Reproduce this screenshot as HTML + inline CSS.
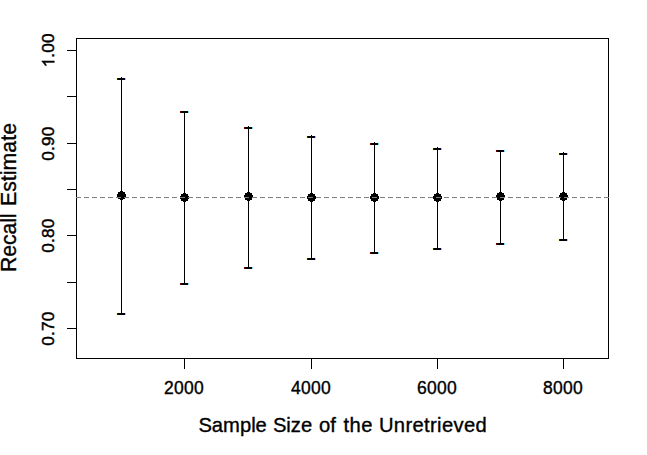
<!DOCTYPE html><html><head><meta charset="utf-8"><style>html,body{margin:0;padding:0;background:#fff}svg{display:block;position:absolute;left:0;top:0}text{font-family:"Liberation Sans",sans-serif;fill:#000}</style></head><body>
<svg width="647" height="455" viewBox="0 0 647 455">
<rect width="647" height="455" fill="#fff"/>
<g fill="#000" shape-rendering="crispEdges">
<rect x="76" y="38" width="533" height="1"/><rect x="76" y="358" width="533" height="1"/><rect x="76" y="38" width="1" height="321"/><rect x="608" y="38" width="1" height="321"/>
<rect x="67" y="50" width="10" height="1"/>
<rect x="67" y="96" width="10" height="1"/>
<rect x="67" y="143" width="10" height="1"/>
<rect x="67" y="189" width="10" height="1"/>
<rect x="67" y="235" width="10" height="1"/>
<rect x="67" y="282" width="10" height="1"/>
<rect x="67" y="328" width="10" height="1"/>
<rect x="184" y="358" width="1" height="11"/>
<rect x="311" y="358" width="1" height="11"/>
<rect x="437" y="358" width="1" height="11"/>
<rect x="563" y="358" width="1" height="11"/>
<rect x="121" y="77" width="1" height="238"/>
<rect x="118" y="78" width="6" height="2"/>
<rect x="116" y="78" width="1" height="2" fill="#ffffc0"/>
<rect x="117" y="78" width="1" height="2" fill="#700000"/>
<rect x="124" y="78" width="1" height="2" fill="#000030"/>
<rect x="125" y="78" width="1" height="2" fill="#80d4ff"/>
<rect x="118" y="313" width="6" height="2"/>
<rect x="116" y="313" width="1" height="2" fill="#ffffc0"/>
<rect x="117" y="313" width="1" height="2" fill="#700000"/>
<rect x="124" y="313" width="1" height="2" fill="#000030"/>
<rect x="125" y="313" width="1" height="2" fill="#80d4ff"/>
<rect x="184" y="111" width="1" height="174"/>
<rect x="181" y="111" width="6" height="2"/>
<rect x="179" y="111" width="1" height="2" fill="#ffffc0"/>
<rect x="180" y="111" width="1" height="2" fill="#700000"/>
<rect x="187" y="111" width="1" height="2" fill="#000030"/>
<rect x="188" y="111" width="1" height="2" fill="#80d4ff"/>
<rect x="181" y="283" width="6" height="2"/>
<rect x="179" y="283" width="1" height="2" fill="#ffffc0"/>
<rect x="180" y="283" width="1" height="2" fill="#700000"/>
<rect x="187" y="283" width="1" height="2" fill="#000030"/>
<rect x="188" y="283" width="1" height="2" fill="#80d4ff"/>
<rect x="248" y="126" width="1" height="143"/>
<rect x="245" y="127" width="6" height="2"/>
<rect x="243" y="127" width="1" height="2" fill="#ffffc0"/>
<rect x="244" y="127" width="1" height="2" fill="#700000"/>
<rect x="251" y="127" width="1" height="2" fill="#000030"/>
<rect x="252" y="127" width="1" height="2" fill="#80d4ff"/>
<rect x="245" y="267" width="6" height="2"/>
<rect x="243" y="267" width="1" height="2" fill="#ffffc0"/>
<rect x="244" y="267" width="1" height="2" fill="#700000"/>
<rect x="251" y="267" width="1" height="2" fill="#000030"/>
<rect x="252" y="267" width="1" height="2" fill="#80d4ff"/>
<rect x="311" y="135" width="1" height="125"/>
<rect x="308" y="136" width="6" height="2"/>
<rect x="306" y="136" width="1" height="2" fill="#ffffc0"/>
<rect x="307" y="136" width="1" height="2" fill="#700000"/>
<rect x="314" y="136" width="1" height="2" fill="#000030"/>
<rect x="315" y="136" width="1" height="2" fill="#80d4ff"/>
<rect x="308" y="258" width="6" height="2"/>
<rect x="306" y="258" width="1" height="2" fill="#ffffc0"/>
<rect x="307" y="258" width="1" height="2" fill="#700000"/>
<rect x="314" y="258" width="1" height="2" fill="#000030"/>
<rect x="315" y="258" width="1" height="2" fill="#80d4ff"/>
<rect x="374" y="142" width="1" height="112"/>
<rect x="371" y="143" width="6" height="2"/>
<rect x="369" y="143" width="1" height="2" fill="#ffffc0"/>
<rect x="370" y="143" width="1" height="2" fill="#700000"/>
<rect x="377" y="143" width="1" height="2" fill="#000030"/>
<rect x="378" y="143" width="1" height="2" fill="#80d4ff"/>
<rect x="371" y="252" width="6" height="2"/>
<rect x="369" y="252" width="1" height="2" fill="#ffffc0"/>
<rect x="370" y="252" width="1" height="2" fill="#700000"/>
<rect x="377" y="252" width="1" height="2" fill="#000030"/>
<rect x="378" y="252" width="1" height="2" fill="#80d4ff"/>
<rect x="437" y="147" width="1" height="103"/>
<rect x="434" y="148" width="6" height="2"/>
<rect x="432" y="148" width="1" height="2" fill="#ffffc0"/>
<rect x="433" y="148" width="1" height="2" fill="#700000"/>
<rect x="440" y="148" width="1" height="2" fill="#000030"/>
<rect x="441" y="148" width="1" height="2" fill="#80d4ff"/>
<rect x="434" y="248" width="6" height="2"/>
<rect x="432" y="248" width="1" height="2" fill="#ffffc0"/>
<rect x="433" y="248" width="1" height="2" fill="#700000"/>
<rect x="440" y="248" width="1" height="2" fill="#000030"/>
<rect x="441" y="248" width="1" height="2" fill="#80d4ff"/>
<rect x="500" y="150" width="1" height="95"/>
<rect x="497" y="150" width="6" height="2"/>
<rect x="495" y="150" width="1" height="2" fill="#ffffc0"/>
<rect x="496" y="150" width="1" height="2" fill="#700000"/>
<rect x="503" y="150" width="1" height="2" fill="#000030"/>
<rect x="504" y="150" width="1" height="2" fill="#80d4ff"/>
<rect x="497" y="243" width="6" height="2"/>
<rect x="495" y="243" width="1" height="2" fill="#ffffc0"/>
<rect x="496" y="243" width="1" height="2" fill="#700000"/>
<rect x="503" y="243" width="1" height="2" fill="#000030"/>
<rect x="504" y="243" width="1" height="2" fill="#80d4ff"/>
<rect x="563" y="152" width="1" height="89"/>
<rect x="560" y="153" width="6" height="2"/>
<rect x="558" y="153" width="1" height="2" fill="#ffffc0"/>
<rect x="559" y="153" width="1" height="2" fill="#700000"/>
<rect x="566" y="153" width="1" height="2" fill="#000030"/>
<rect x="567" y="153" width="1" height="2" fill="#80d4ff"/>
<rect x="560" y="239" width="6" height="2"/>
<rect x="558" y="239" width="1" height="2" fill="#ffffc0"/>
<rect x="559" y="239" width="1" height="2" fill="#700000"/>
<rect x="566" y="239" width="1" height="2" fill="#000030"/>
<rect x="567" y="239" width="1" height="2" fill="#80d4ff"/>
</g>
<g fill="#000" shape-rendering="crispEdges">
<rect x="120" y="191" width="3" height="1"/>
<rect x="118" y="192" width="7" height="1"/>
<rect x="118" y="193" width="7" height="1"/>
<rect x="117" y="194" width="9" height="1"/>
<rect x="117" y="195" width="9" height="1"/>
<rect x="117" y="196" width="9" height="1"/>
<rect x="118" y="197" width="7" height="1"/>
<rect x="118" y="198" width="7" height="1"/>
<rect x="120" y="199" width="3" height="1"/>
<rect x="183" y="193" width="3" height="1"/>
<rect x="181" y="194" width="7" height="1"/>
<rect x="181" y="195" width="7" height="1"/>
<rect x="180" y="196" width="9" height="1"/>
<rect x="180" y="197" width="9" height="1"/>
<rect x="180" y="198" width="9" height="1"/>
<rect x="181" y="199" width="7" height="1"/>
<rect x="181" y="200" width="7" height="1"/>
<rect x="183" y="201" width="3" height="1"/>
<rect x="247" y="192" width="3" height="1"/>
<rect x="245" y="193" width="7" height="1"/>
<rect x="245" y="194" width="7" height="1"/>
<rect x="244" y="195" width="9" height="1"/>
<rect x="244" y="196" width="9" height="1"/>
<rect x="244" y="197" width="9" height="1"/>
<rect x="245" y="198" width="7" height="1"/>
<rect x="245" y="199" width="7" height="1"/>
<rect x="247" y="200" width="3" height="1"/>
<rect x="310" y="193" width="3" height="1"/>
<rect x="308" y="194" width="7" height="1"/>
<rect x="308" y="195" width="7" height="1"/>
<rect x="307" y="196" width="9" height="1"/>
<rect x="307" y="197" width="9" height="1"/>
<rect x="307" y="198" width="9" height="1"/>
<rect x="308" y="199" width="7" height="1"/>
<rect x="308" y="200" width="7" height="1"/>
<rect x="310" y="201" width="3" height="1"/>
<rect x="373" y="193" width="3" height="1"/>
<rect x="371" y="194" width="7" height="1"/>
<rect x="371" y="195" width="7" height="1"/>
<rect x="370" y="196" width="9" height="1"/>
<rect x="370" y="197" width="9" height="1"/>
<rect x="370" y="198" width="9" height="1"/>
<rect x="371" y="199" width="7" height="1"/>
<rect x="371" y="200" width="7" height="1"/>
<rect x="373" y="201" width="3" height="1"/>
<rect x="436" y="193" width="3" height="1"/>
<rect x="434" y="194" width="7" height="1"/>
<rect x="434" y="195" width="7" height="1"/>
<rect x="433" y="196" width="9" height="1"/>
<rect x="433" y="197" width="9" height="1"/>
<rect x="433" y="198" width="9" height="1"/>
<rect x="434" y="199" width="7" height="1"/>
<rect x="434" y="200" width="7" height="1"/>
<rect x="436" y="201" width="3" height="1"/>
<rect x="499" y="192" width="3" height="1"/>
<rect x="497" y="193" width="7" height="1"/>
<rect x="497" y="194" width="7" height="1"/>
<rect x="496" y="195" width="9" height="1"/>
<rect x="496" y="196" width="9" height="1"/>
<rect x="496" y="197" width="9" height="1"/>
<rect x="497" y="198" width="7" height="1"/>
<rect x="497" y="199" width="7" height="1"/>
<rect x="499" y="200" width="3" height="1"/>
<rect x="562" y="192" width="3" height="1"/>
<rect x="560" y="193" width="7" height="1"/>
<rect x="560" y="194" width="7" height="1"/>
<rect x="559" y="195" width="9" height="1"/>
<rect x="559" y="196" width="9" height="1"/>
<rect x="559" y="197" width="9" height="1"/>
<rect x="560" y="198" width="7" height="1"/>
<rect x="560" y="199" width="7" height="1"/>
<rect x="562" y="200" width="3" height="1"/>
</g>
<g fill="#7f7f7f" shape-rendering="crispEdges">
<rect x="76" y="197" width="5" height="1"/>
<rect x="84" y="197" width="5" height="1"/>
<rect x="92" y="197" width="5" height="1"/>
<rect x="100" y="197" width="5" height="1"/>
<rect x="108" y="197" width="5" height="1"/>
<rect x="116" y="197" width="5" height="1"/>
<rect x="124" y="197" width="5" height="1"/>
<rect x="132" y="197" width="5" height="1"/>
<rect x="140" y="197" width="5" height="1"/>
<rect x="148" y="197" width="5" height="1"/>
<rect x="156" y="197" width="5" height="1"/>
<rect x="164" y="197" width="5" height="1"/>
<rect x="172" y="197" width="5" height="1"/>
<rect x="180" y="197" width="5" height="1"/>
<rect x="188" y="197" width="5" height="1"/>
<rect x="196" y="197" width="5" height="1"/>
<rect x="204" y="197" width="5" height="1"/>
<rect x="212" y="197" width="5" height="1"/>
<rect x="220" y="197" width="5" height="1"/>
<rect x="228" y="197" width="5" height="1"/>
<rect x="236" y="197" width="5" height="1"/>
<rect x="244" y="197" width="5" height="1"/>
<rect x="252" y="197" width="5" height="1"/>
<rect x="260" y="197" width="5" height="1"/>
<rect x="268" y="197" width="5" height="1"/>
<rect x="276" y="197" width="5" height="1"/>
<rect x="284" y="197" width="5" height="1"/>
<rect x="292" y="197" width="5" height="1"/>
<rect x="300" y="197" width="5" height="1"/>
<rect x="308" y="197" width="5" height="1"/>
<rect x="316" y="197" width="5" height="1"/>
<rect x="324" y="197" width="5" height="1"/>
<rect x="332" y="197" width="5" height="1"/>
<rect x="340" y="197" width="5" height="1"/>
<rect x="348" y="197" width="5" height="1"/>
<rect x="356" y="197" width="5" height="1"/>
<rect x="364" y="197" width="5" height="1"/>
<rect x="372" y="197" width="5" height="1"/>
<rect x="380" y="197" width="5" height="1"/>
<rect x="388" y="197" width="5" height="1"/>
<rect x="396" y="197" width="5" height="1"/>
<rect x="404" y="197" width="5" height="1"/>
<rect x="412" y="197" width="5" height="1"/>
<rect x="420" y="197" width="5" height="1"/>
<rect x="428" y="197" width="5" height="1"/>
<rect x="436" y="197" width="5" height="1"/>
<rect x="444" y="197" width="5" height="1"/>
<rect x="452" y="197" width="5" height="1"/>
<rect x="460" y="197" width="5" height="1"/>
<rect x="468" y="197" width="5" height="1"/>
<rect x="476" y="197" width="5" height="1"/>
<rect x="484" y="197" width="5" height="1"/>
<rect x="492" y="197" width="5" height="1"/>
<rect x="500" y="197" width="5" height="1"/>
<rect x="508" y="197" width="5" height="1"/>
<rect x="516" y="197" width="5" height="1"/>
<rect x="524" y="197" width="5" height="1"/>
<rect x="532" y="197" width="5" height="1"/>
<rect x="540" y="197" width="5" height="1"/>
<rect x="548" y="197" width="5" height="1"/>
<rect x="556" y="197" width="5" height="1"/>
<rect x="564" y="197" width="5" height="1"/>
<rect x="572" y="197" width="5" height="1"/>
<rect x="580" y="197" width="5" height="1"/>
<rect x="588" y="197" width="5" height="1"/>
<rect x="596" y="197" width="5" height="1"/>
<rect x="604" y="197" width="5" height="1"/>
</g>
<g stroke="#000" stroke-width="0.35">
<text x="183.95" y="393.8" font-size="17.5" letter-spacing="0.27" text-anchor="middle">2000</text>
<text x="310.95" y="393.8" font-size="17.5" letter-spacing="0.27" text-anchor="middle">4000</text>
<text x="436.95" y="393.8" font-size="17.5" letter-spacing="0.27" text-anchor="middle">6000</text>
<text x="562.95" y="393.8" font-size="17.5" letter-spacing="0.27" text-anchor="middle">8000</text>
<g transform="translate(54.3,50.5) rotate(-90)"><path d="M763 0H583V1147Q518 1085 412.5 1023T223 930V1104Q374 1175 487 1276T647 1472H763Z" transform="translate(-16.80,0) scale(0.008398,-0.008398)" stroke-width="53.6"/><text x="-7.30" y="0" font-size="17.2" letter-spacing="0.2" stroke-width="0.45">.00</text></g>
<text transform="translate(54.3,143.6) rotate(-90)" font-size="17.2" text-anchor="middle" letter-spacing="0.2" stroke-width="0.45">0.90</text>
<text transform="translate(54.3,235.6) rotate(-90)" font-size="17.2" text-anchor="middle" letter-spacing="0.2" stroke-width="0.45">0.80</text>
<text transform="translate(54.3,328.6) rotate(-90)" font-size="17.2" text-anchor="middle" letter-spacing="0.2" stroke-width="0.45">0.70</text>
<text x="198.4" y="431.7" font-size="20.2" letter-spacing="0">Sample</text>
<text x="272.9" y="431.7" font-size="20.2" letter-spacing="0">Size</text>
<text x="319.1" y="431.7" font-size="20.2" letter-spacing="0">of</text>
<text x="343.6" y="431.7" font-size="20.2" letter-spacing="0.4">the</text>
<text x="378.9" y="431.7" font-size="20.2" letter-spacing="0.35">Unretrieved</text>
<text transform="translate(15.9,272.1) rotate(-90)" font-size="21.2" letter-spacing="-0.05">Recall</text>
<text transform="translate(15.9,206.1) rotate(-90)" font-size="21.2" letter-spacing="0.1">Estimate</text>
</g>
</svg></body></html>
